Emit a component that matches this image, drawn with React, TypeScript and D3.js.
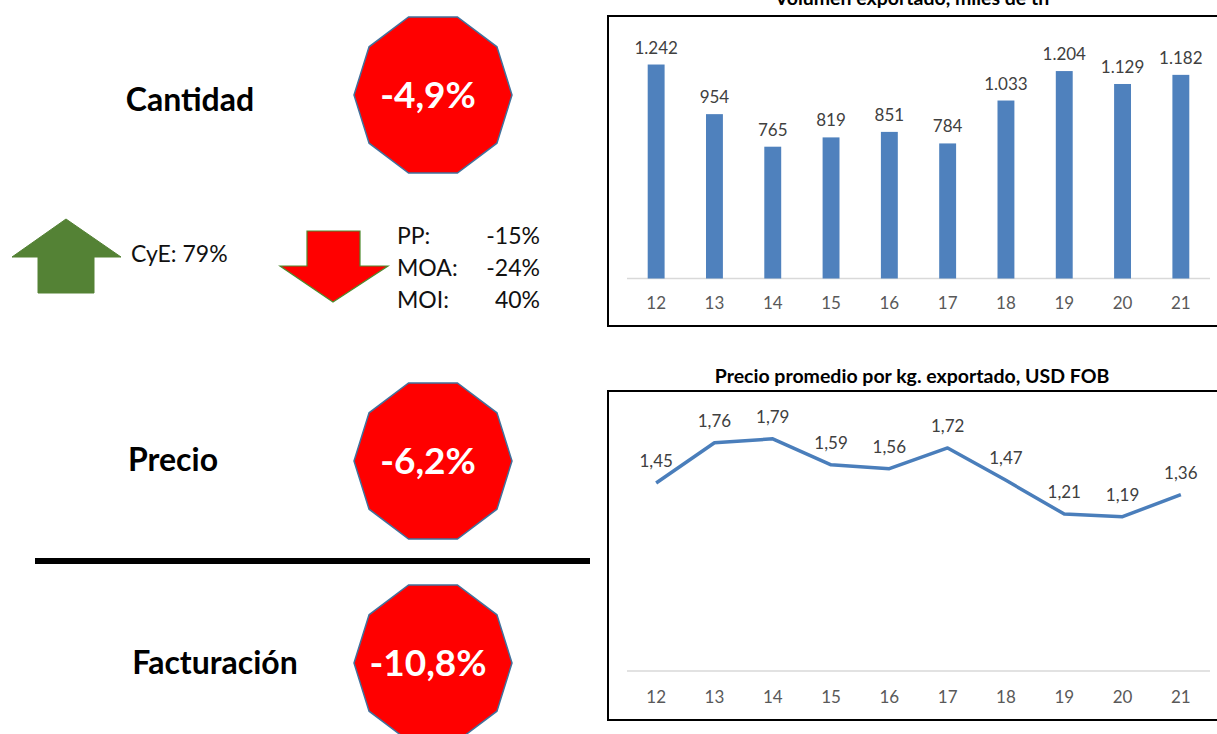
import * as d3 from 'd3';

// chart data
const years = ['12', '13', '14', '15', '16', '17', '18', '19', '20', '21'];
const volume = [1242, 954, 765, 819, 851, 784, 1033, 1204, 1129, 1182];
const price = [1.45, 1.76, 1.79, 1.59, 1.56, 1.72, 1.47, 1.21, 1.19, 1.36];

// summary panel
const rowLabels = ['Cantidad', 'Precio', 'Facturación'];
const rowChanges = ['-4,9%', '-6,2%', '-10,8%'];
const upItems = ['CyE: 79%'];
const downLabels = ['PP:', 'MOA:', 'MOI:'];
const downValues = ['-15%', '-24%', '40%'];

const FONT = 'Lato, "Open Sans", sans-serif';
const BLUE = '#4f81bd';

const fmtVol = (v: number) => d3.format(',')(v).replace(/,/g, '.');
const fmtPrice = (v: number) => d3.format('.2f')(v).replace('.', ',');

const decagon = (cx: number, cy: number, rx: number, ry: number) => {
  const pts: [number, number][] = d3.range(10).map((i) => {
    const a = (i * Math.PI) / 5;
    return [cx + rx * Math.cos(a), cy - ry * Math.sin(a)];
  });
  return d3.line()(pts) + 'Z';
};

export default function App() {
  const x = d3.scalePoint<string>().domain(years).range([627, 1210]).padding(0.5);
  const barW = x.step() * 0.29;
  const yBar = d3.scaleLinear().domain([0, 1400]).range([278.5, 37.3]);
  const yLine = d3.scaleLinear().domain([0, 2]).range([671, 411.6]);

  const linePath = d3
    .line<number>()
    .x((_, i) => x(years[i]) as number)
    .y((d) => yLine(d))(price);

  const rowY = [95, 461, 663];
  const labelY = [100, 460, 663];
  const rowX = [190, 173, 215];

  return (
    <svg
      width={1217}
      height={734}
      style={{ position: 'absolute', left: 0, top: 0, background: '#fff' }}
      fontFamily={FONT}
    >
      <rect width={1217} height={734} fill="#fff" />

      {/* left summary */}
      {rowLabels.map((lab, i) => (
        <g key={lab}>
          <text
            x={rowX[i]}
            y={labelY[i]}
            dy="0.35em"
            textAnchor="middle"
            fontSize={32}
            fontWeight="bold"
            fill="#000"
          >
            {lab}
          </text>
          <path d={decagon(433, rowY[i], 79, 82)} fill="#ff0000" stroke="#41719c" strokeWidth={1.5} />
          <text
            x={428}
            y={rowY[i]}
            dy="0.35em"
            textAnchor="middle"
            fontSize={37}
            fontWeight="bold"
            fill="#fff"
          >
            {rowChanges[i]}
          </text>
        </g>
      ))}

      {/* up arrow */}
      <path
        d="M66,219 L121,257 L94,257 L94,293 L38,293 L38,257 L12,257 Z"
        fill="#548235"
        stroke="#548235"
        strokeWidth={1}
      />
      <text x={131} y={254} dy="0.35em" fontSize={23} fill="#111">
        {upItems[0]}
      </text>

      {/* down arrow */}
      <path
        d="M307,231 L360,231 L360,266 L388,266 L333,302 L280,266 L307,266 Z"
        fill="#ff0000"
        stroke="#4e8a2e"
        strokeWidth={1.2}
      />
      {downLabels.map((lab, i) => (
        <g key={lab}>
          <text x={397} y={236 + i * 32} dy="0.35em" fontSize={23} fill="#111">
            {lab}
          </text>
          <text x={540} y={236 + i * 32} dy="0.35em" textAnchor="end" fontSize={23} fill="#111">
            {downValues[i]}
          </text>
        </g>
      ))}

      <line x1={35} x2={590} y1={561} y2={561} stroke="#000" strokeWidth={6} />

      {/* bar chart */}
      <text x={912} y={5} textAnchor="middle" fontSize={19.5} fontWeight="bold" fill="#000">
        Volumen exportado, miles de tn
      </text>
      <rect x={608} y={16} width={640} height={310} fill="none" stroke="#000" strokeWidth={2} />
      <line x1={627} x2={1210} y1={278.5} y2={278.5} stroke="#d9d9d9" strokeWidth={1.5} />
      {volume.map((v, i) => (
        <g key={years[i]}>
          <rect
            x={(x(years[i]) as number) - barW / 2}
            y={yBar(v)}
            width={barW}
            height={yBar(0) - yBar(v)}
            fill={BLUE}
          />
          <text
            x={x(years[i])}
            y={yBar(v) - 11}
            textAnchor="middle"
            fontSize={17}
            fill="#404040"
          >
            {fmtVol(v)}
          </text>
          <text x={x(years[i])} y={303} dy="0.35em" textAnchor="middle" fontSize={17} fill="#595959">
            {years[i]}
          </text>
        </g>
      ))}

      {/* line chart */}
      <text x={912} y={383} textAnchor="middle" fontSize={19.5} fontWeight="bold" fill="#000">
        Precio promedio por kg. exportado, USD FOB
      </text>
      <rect x={608} y={391} width={640} height={329} fill="none" stroke="#000" strokeWidth={2} />
      <line x1={627} x2={1210} y1={671} y2={671} stroke="#d9d9d9" strokeWidth={1.5} />
      <path d={linePath ?? ''} fill="none" stroke="#4a7ebb" strokeWidth={3.5} strokeLinejoin="round" />
      {price.map((v, i) => (
        <g key={years[i]}>
          <text
            x={x(years[i])}
            y={yLine(v) - 16}
            textAnchor="middle"
            fontSize={17}
            fill="#404040"
          >
            {fmtPrice(v)}
          </text>
          <text x={x(years[i])} y={697} dy="0.35em" textAnchor="middle" fontSize={17} fill="#595959">
            {years[i]}
          </text>
        </g>
      ))}
    </svg>
  );
}
